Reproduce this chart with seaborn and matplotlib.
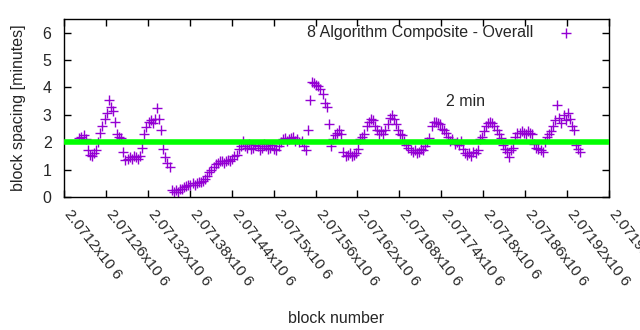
import numpy as np
import pandas as pd
import matplotlib
matplotlib.use("Agg")
import matplotlib.pyplot as plt
import seaborn as sns

# ---- data ----
block_start = 2071222
block_step = 3
spacing_minutes = [
    2.15, 2.2, 2.25, 2.1, 1.7, 1.55, 1.5, 1.6, 1.7, 2.0,
    2.35, 2.6, 2.85, 3.05, 3.55, 3.3, 3.15, 2.75, 2.3, 2.2,
    2.15, 1.65, 1.35, 1.4, 1.45, 1.4, 1.5, 1.45, 1.4, 1.5,
    1.8, 2.3, 2.55, 2.75, 2.8, 2.7, 2.85, 3.25, 2.85, 2.45,
    1.75, 1.45, 1.25, 1.1, 0.25, 0.2, 0.25, 0.2, 0.3, 0.3,
    0.35, 0.4, 0.45, 0.45, 0.5, 0.45, 0.5, 0.55, 0.55, 0.6,
    0.65, 0.75, 0.9, 1.0, 1.1, 1.2, 1.25, 1.3, 1.3, 1.25,
    1.3, 1.35, 1.3, 1.4, 1.5, 1.55, 1.75, 1.85, 2.05, 1.85,
    1.8, 1.95, 1.75, 1.8, 1.9, 1.85, 1.7, 1.8, 1.95, 1.85,
    1.75, 1.8, 1.9, 1.75, 1.7, 1.85, 2.0, 2.1, 2.15, 2.05,
    2.1, 2.15, 2.2, 2.05, 2.1, 2.0, 2.05, 1.85, 1.7, 2.45,
    3.55, 4.2, 4.15, 4.1, 4.05, 3.95, 3.75, 3.45, 3.3, 2.65,
    1.85, 2.1, 2.25, 2.35, 2.45, 2.3, 1.65, 1.5, 1.55, 1.6,
    1.5, 1.55, 1.6, 1.75, 2.1, 2.2, 2.3, 2.6, 2.75, 2.85,
    2.8, 2.6, 2.45, 2.3, 2.4, 2.3, 2.45, 2.65, 2.9, 3.0,
    2.85, 2.65, 2.45, 2.3, 2.25, 2.05, 1.9, 1.8, 1.7, 1.65,
    1.7, 1.6, 1.65, 1.75, 1.7, 1.85, 2.0, 2.15, 2.6, 2.75,
    2.75, 2.7, 2.65, 2.5, 2.45, 2.35, 2.2, 2.05, 2.1, 1.95,
    2.0, 1.9, 2.05, 1.75, 1.6, 1.55, 1.6, 1.5, 1.65, 1.6,
    1.7, 2.1, 2.2, 2.4, 2.6, 2.7, 2.75, 2.7, 2.6, 2.45,
    2.3, 2.15, 1.9, 1.75, 1.65, 1.45, 1.7, 1.8, 2.2, 2.35,
    2.35, 2.4, 2.35, 2.3, 2.4, 2.35, 2.3, 1.95, 1.8, 1.75,
    1.7, 1.65, 2.0, 2.2, 2.3, 2.4, 2.6, 2.8, 3.35, 2.9,
    2.7, 3.0, 2.8, 3.05, 2.85, 2.6, 2.45, 1.9, 1.75, 1.65,
]
blocks = block_start + block_step * np.arange(len(spacing_minutes))
target_minutes = 2
series_label = "8 Algorithm Composite - Overall"
annotation_text = "2 min"
annotation_pos = (2071746, 3.5)
x_tick_values = list(range(2071200, 2071981, 60))
x_tick_labels = ["2.0712x10 6", "2.07126x10 6", "2.07132x10 6", "2.07138x10 6",
                 "2.07144x10 6", "2.0715x10 6", "2.07156x10 6", "2.07162x10 6",
                 "2.07168x10 6", "2.07174x10 6", "2.0718x10 6", "2.07186x10 6",
                 "2.07192x10 6", "2.07198x10 6"]
y_ticks = [0, 1, 2, 3, 4, 5, 6]

df = pd.DataFrame({"block": blocks, "minutes": spacing_minutes})

sns.set_theme(style="ticks")
plt.rcParams['font.family'] = ['Liberation Sans', 'DejaVu Sans']

FS = 11.5
fig = plt.figure(figsize=(6.4, 3.3), dpi=100)
ax = fig.add_axes([64/640, 1-197/330, (609-64)/640, (197-19)/330])

sns.scatterplot(data=df, x="block", y="minutes", ax=ax, marker="+", s=60,
                color="#9400D3", linewidth=1.0, label=series_label, zorder=2)
ax.axhline(target_minutes, color="#00FF00", linewidth=4, zorder=3,
           solid_capstyle="butt")

ax.set_xlim(2071200, 2071980)
ax.set_ylim(0, 6.5)
ax.set_xticks(x_tick_values)
ax.set_xticklabels(x_tick_labels, rotation=-52, ha="left", va="baseline",
                   rotation_mode="anchor", fontsize=11)
ax.set_yticks(y_ticks)
ax.tick_params(axis="y", labelsize=FS, pad=9)
ax.tick_params(direction="in", length=5, width=1, top=True, right=True,
               color="black")
ax.tick_params(axis="x", pad=12)
for sp in ax.spines.values():
    sp.set_linewidth(1)
    sp.set_color("black")

ax.set_xlabel("block number", fontsize=FS, labelpad=16)
ax.set_ylabel("block spacing [minutes]", fontsize=FS, labelpad=12)
ax.text(annotation_pos[0], annotation_pos[1], annotation_text, fontsize=FS,
        va="center")

leg = ax.legend(loc="upper right", frameon=False, markerfirst=False,
                fontsize=FS, handletextpad=1.06, handlelength=2.0,
                borderaxespad=0, bbox_to_anchor=(0.963, 1.0))

fig.savefig("out.png", dpi=100)
